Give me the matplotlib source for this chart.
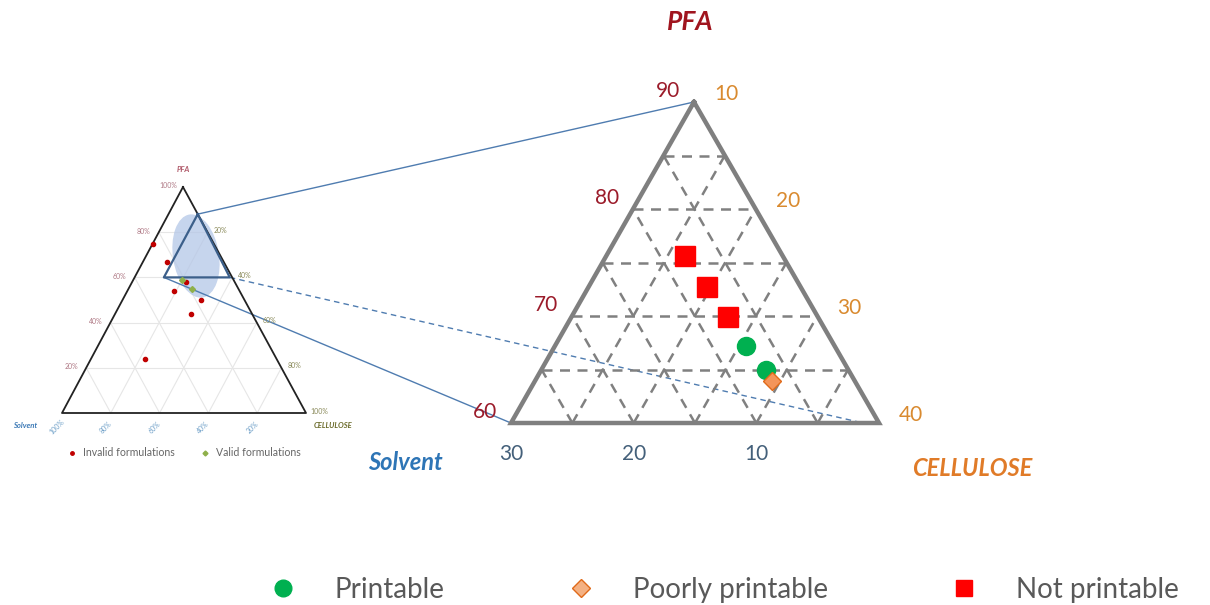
import numpy as np
import matplotlib
matplotlib.use('Agg')
import matplotlib.pyplot as plt
from matplotlib.lines import Line2D
from matplotlib.patches import Ellipse

plt.rcParams['font.family'] = ['Lato', 'DejaVu Sans']

# zoomed diagram: PFA / cellulose / solvent in %
zoom_pfa = [75.6, 72.7, 69.9, 67.2, 65.0, 63.9]
zoom_cell = [16.4, 19.7, 22.8, 25.6, 28.3, 29.3]
zoom_solv = [8.0, 7.6, 7.3, 7.2, 6.7, 6.8]
zoom_class = ['not', 'not', 'not', 'ok', 'ok', 'poor']

# overview diagram (fractions)
inv_pfa = [0.75, 0.67, 0.54, 0.50, 0.44, 0.24, 0.58]
inv_cell = [0.00, 0.10, 0.19, 0.32, 0.31, 0.22, 0.22]
val_pfa = [0.59, 0.55]
val_cell = [0.20, 0.26]

# zoom window inside the overview
win_pfa = [0.88, 0.60, 0.60]
win_cell = [0.12, 0.12, 0.39]

big_pfa_ticks = [90, 80, 70, 60]
big_cell_ticks = [10, 20, 30, 40]
big_solv_ticks = [30, 20, 10]
small_ticks = [0.2, 0.4, 0.6, 0.8, 1.0]

BIG = dict(T=(694, 102), L=(511, 423), R=(879, 423))
SMALL = dict(T=(183, 187), L=(62, 413), R=(306, 413))


def tern(tri, top, right):
    """barycentric weights (top, right, left) -> pixel coords"""
    top = np.asarray(top, float)
    right = np.asarray(right, float)
    left = 1 - top - right
    x = top * tri['T'][0] + right * tri['R'][0] + left * tri['L'][0]
    y = top * tri['T'][1] + right * tri['R'][1] + left * tri['L'][1]
    return x, y


def big_xy(p, c):
    return tern(BIG, (np.asarray(p) - 60) / 30, (np.asarray(c) - 10) / 30)


def tri_grid(tri, n, **kw):
    for k in range(1, n):
        f = k / n
        x, y = tern(tri, [f, f], [0, 1 - f])          # constant top
        ax.plot(x, y, **kw)
        x, y = tern(tri, [0, 1 - f], [f, f])          # constant right
        ax.plot(x, y, **kw)
        x, y = tern(tri, [0, 1 - f], [1 - f, 0])      # constant left
        ax.plot(x, y, **kw)


fig = plt.figure(figsize=(12.1, 6.05), dpi=100)
ax = fig.add_axes([0, 0, 1, 1])
ax.set_xlim(0, 1210)
ax.set_ylim(605, 0)
ax.axis('off')

# ---------------- overview triangle ----------------
tri_grid(SMALL, 5, color='#e6e6e6', lw=0.8, zorder=1)

ell = Ellipse((196, 256), 46, 84, angle=-9, facecolor='#b4c7e7', alpha=0.75,
              edgecolor='none', zorder=2)
ax.add_patch(ell)

x, y = tern(SMALL, [1, 0, 0, 1], [0, 1, 0, 0])
ax.plot(x, y, color='#222222', lw=1.3, zorder=3)

wx, wy = tern(SMALL, win_pfa, win_cell)
ax.plot(list(wx) + [wx[0]], list(wy) + [wy[0]], color='#3b5f8a', lw=1.6, zorder=4)

x, y = tern(SMALL, inv_pfa, inv_cell)
ax.plot(x, y, 'o', color='#c00000', ms=3, zorder=5)
x, y = tern(SMALL, val_pfa, val_cell)
ax.plot(x, y, 'D', color='#8fb04a', ms=3, zorder=5)

for t in small_ticks:
    x, y = tern(SMALL, t, 0)
    ax.text(x - 15, y - 1, f'{t * 100:.0f}%', color='#b07a86', fontsize=5,
            ha='center', va='center')
    x, y = tern(SMALL, 1 - t, t)
    ax.text(x + 13, y - 2, f'{t * 100:.0f}%', color='#8a8a5a', fontsize=5,
            ha='center', va='center')
    x, y = tern(SMALL, 0, 1 - t)
    ax.text(x - 5, y + 14, f'{t * 100:.0f}%', color='#6fa0c8', fontsize=5,
            ha='center', va='center', rotation=45)

ax.text(183, 170, 'PFA', color='#b05a6a', fontsize=5.5, style='italic',
        weight='bold', ha='center', va='center')
ax.text(25, 425, 'Solvent', color='#3a78b5', fontsize=5.5, style='italic',
        weight='bold', ha='center', va='center')
ax.text(333, 425, 'CELLULOSE', color='#6b6b2a', fontsize=5.5, style='italic',
        weight='bold', ha='center', va='center')

ax.plot(72, 453, 'o', color='#c00000', ms=2.5)
ax.text(83, 453, 'Invalid formulations', color='#666666', fontsize=7.6,
        va='center')
ax.plot(205, 453, 'D', color='#8fb04a', ms=2.5)
ax.text(216, 453, 'Valid formulations', color='#666666', fontsize=7.6,
        va='center')

# ---------------- links between the two ----------------
ax.plot([wx[0], BIG['T'][0]], [wy[0], BIG['T'][1]], color='#4f7cb0', lw=1, zorder=2)
ax.plot([wx[1], BIG['L'][0]], [wy[1], BIG['L'][1]], color='#4f7cb0', lw=1, zorder=2)
ax.plot([wx[2], BIG['R'][0] - 16], [wy[2], BIG['R'][1]], color='#4f7cb0', lw=1,
        ls=(0, (4, 3)), zorder=2)

# ---------------- zoomed triangle ----------------
tri_grid(BIG, 6, color='#808080', lw=1.8, ls=(0, (4, 3)), zorder=3)

x, y = tern(BIG, [1, 0, 0, 1], [0, 1, 0, 0])
ax.plot(x, y, color='#7f7f7f', lw=3.2, zorder=4, solid_joinstyle='miter')

for v in big_pfa_ticks:
    x, y = big_xy(v, 10)
    ax.text(x - 26, y - 11, str(v), color='#9b1b2a', fontsize=15,
            ha='center', va='center')
for v in big_cell_ticks:
    x, y = big_xy(100 - v, v)
    ax.text(x + 32, y - 8, str(v), color='#d98a2f', fontsize=15,
            ha='center', va='center')
for v in big_solv_ticks:
    x, y = big_xy(60, 40 - v)
    ax.text(x, y + 31, str(v), color='#44607a', fontsize=15,
            ha='center', va='center')

ax.text(690, 22, 'PFA', color='#a0141e', fontsize=19, style='italic',
        weight='bold', ha='center', va='center')
ax.text(405, 462, 'Solvent', color='#2e75b6', fontsize=17, style='italic',
        weight='bold', ha='center', va='center')
ax.text(972, 468, 'CELLULOSE', color='#e07b28', fontsize=17, style='italic',
        weight='bold', ha='center', va='center')

styles = {
    'ok': dict(marker='o', color='#00b050', mec='#00b050', ms=13),
    'poor': dict(marker='D', color='#f4955a', mec='#e06a1a', ms=9.5),
    'not': dict(marker='s', color='#ff0000', mec='#ff0000', ms=14),
}
for p, c, s, cls in zip(zoom_pfa, zoom_cell, zoom_solv, zoom_class):
    x, y = big_xy(p, c)
    ax.plot(x, y, ls='none', zorder=6, **styles[cls])

handles = [
    Line2D([], [], ls='none', marker='o', color='#00b050', ms=12),
    Line2D([], [], ls='none', marker='D', color='#f4b183', mec='#e06a1a', ms=9),
    Line2D([], [], ls='none', marker='s', color='#ff0000', ms=12),
]
fig.legend(handles, ['Printable', 'Poorly printable', 'Not printable'],
           loc='center left', bbox_to_anchor=(255 / 1210, 1 - 590 / 605),
           ncol=3, frameon=False, fontsize=20, labelcolor='#595959',
           borderpad=0, borderaxespad=0, handlelength=2.0,
           handletextpad=0.87, columnspacing=3.9)

fig.savefig('out.png', dpi=100)
